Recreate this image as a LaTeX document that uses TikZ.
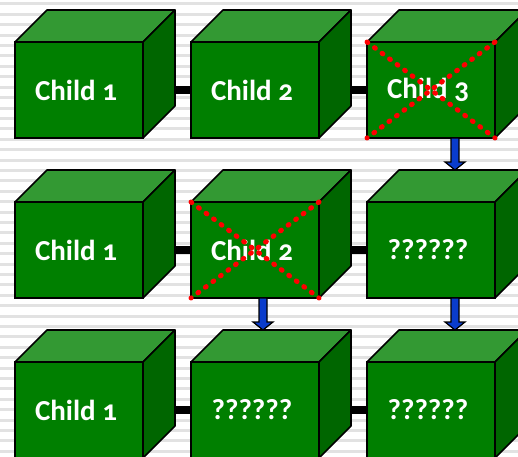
\documentclass[tikz,border=0pt]{standalone}
\usepackage{fontspec}
\setmainfont{Carlito}[Numbers=OldStyle]
\usetikzlibrary{calc,backgrounds}
\definecolor{frontgreen}{HTML}{007F00}
\definecolor{topgreen}{HTML}{339933}
\definecolor{sidegreen}{HTML}{006600}
\definecolor{arrowblue}{HTML}{0A3CCC}
\definecolor{stripegray}{HTML}{E2E2E2}

\begin{document}
\begin{tikzpicture}[x=1pt,y=1pt,
    front/.style={draw=black,line width=1.6pt,fill=frontgreen,minimum width=128pt,minimum height=96pt,
      inner sep=0pt,outer sep=0pt,text=white,font=\fontsize{29}{30}\selectfont\bfseries},
    face/.style={draw=black,line width=1.6pt,line join=round},
    link/.style={line width=8pt},
    cross/.style={red,line width=5pt,line cap=round,dash pattern=on 1pt off 8.4pt},
    blockarrow/.style={draw=black,line width=1.2pt,fill=arrowblue,
      to path={let \p1=(\tikztostart),\p2=(\tikztotarget) in
        (\x1-4,\y1) -- (\x1-4,\y2+8) -- (\x1-10,\y2+8) -- (\x1,\y2) -- (\x1+10,\y2+8) -- (\x1+4,\y2+8) -- (\x1+4,\y1) -- cycle}}]
  \useasboundingbox (0,0) rectangle (518,456);
  \clip (0,0) rectangle (518,456);
  % front faces
  \foreach \r/\c/\lab in {1/1/Child 1,1/2/Child 2,1/3/Child 3,
                          2/1/Child 1,2/2/Child 2,2/3/??????,
                          3/1/Child 1,3/2/??????,3/3/??????}
    \node[front] (c\r\c) at ({79+176*(\c-1)},{366-160*(\r-1)}) {\lab\hspace*{6pt}};
  % top and side faces
  \foreach \n in {c11,c12,c13,c21,c22,c23,c31,c32,c33}{
    \draw[face,fill=topgreen] (\n.north west) -- ++(32,32) -- ++(128,0) -- (\n.north east) -- cycle;
    \draw[face,fill=sidegreen] (\n.north east) -- ++(32,32) -- ++(0,-96) -- (\n.south east) -- cycle;
  }
  \foreach \n in {c13,c22}
    \draw[cross] (\n.north west) -- (\n.south east) (\n.north east) -- (\n.south west);
  \foreach \s/\t/\dx in {c13/c23/24,c22/c32/8,c23/c33/24}
    \draw[blockarrow] ($(\s.south)+(\dx,0)$) to ($(\t.north)+(\dx,32)$);
  \begin{pgfonlayer}{background}
    \fill[white] (0,0) rectangle (518,456);
    \foreach \i in {0,...,43}
      \fill[stripegray] (0,{450.5-10.4*\i}) rectangle ++(518,3);
    \foreach \a/\b in {c11/c12,c12/c13,c21/c22,c22/c23,c31/c32,c32/c33}
      \draw[link] (\a) -- (\b);
  \end{pgfonlayer}
\end{tikzpicture}
\end{document}
